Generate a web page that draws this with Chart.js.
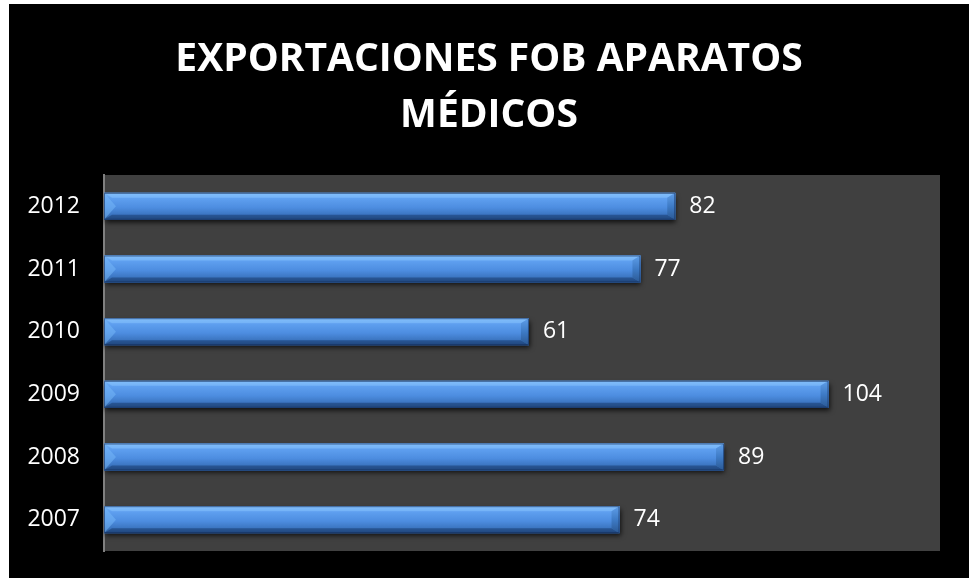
<!DOCTYPE html>
<html>
<head>
<meta charset="utf-8">
<script src="https://cdn.jsdelivr.net/npm/chart.js@4"></script>
<style>
  html, body { margin: 0; padding: 0; background: #ffffff; }
  #frame { position: absolute; left: 9px; top: 4px; width: 960px; height: 574px; background: #000000; }
</style>
</head>
<body>
<div id="frame"><canvas id="fobChart" width="960" height="574"></canvas></div>
<script>
const titleLines = ['EXPORTACIONES FOB APARATOS', 'MÉDICOS'];
const years = ['2007', '2008', '2009', '2010', '2011', '2012'];
const exportsFob = [74, 89, 104, 61, 77, 82];
const axisMax = 120;

// grey plot background behind the bars
const plotBackground = {
  id: 'plotBackground',
  beforeDraw(chart) {
    const { ctx, chartArea: a } = chart;
    ctx.save();
    ctx.fillStyle = '#404040';
    ctx.fillRect(a.left, a.top, a.right - a.left, a.bottom - a.top);
    ctx.restore();
  }
};

// centre the title over the whole canvas, not just the padded area
const centreTitle = {
  id: 'centreTitle',
  afterLayout(chart) {
    if (chart.titleBlock) {
      chart.titleBlock.left = 0;
      chart.titleBlock.right = chart.width;
    }
  }
};

// bevelled "3D" look for each bar plus the value at its end
const bevelBars = {
  id: 'bevelBars',
  beforeDatasetsDraw(chart) {
    const ctx = chart.ctx;
    chart.getDatasetMeta(0).data.forEach((bar) => {
      const { x, y, base, height } = bar.getProps(['x', 'y', 'base', 'height'], true);
      ctx.save();
      ctx.shadowColor = 'rgba(0,0,0,0.75)';
      ctx.shadowBlur = 5;
      ctx.shadowOffsetX = 1;
      ctx.shadowOffsetY = 3;
      ctx.fillStyle = '#3a75c0';
      ctx.fillRect(base, y - height / 2, x - base, height);
      ctx.restore();
    });
  },
  afterDatasetsDraw(chart) {
    const ctx = chart.ctx;
    const b = 8;
    chart.getDatasetMeta(0).data.forEach((bar, i) => {
      const { x, y, base, height } = bar.getProps(['x', 'y', 'base', 'height'], true);
      const top = y - height / 2, bottom = y + height / 2, left = base, right = x;

      const face = ctx.createLinearGradient(0, top, 0, bottom);
      face.addColorStop(0, '#7ab6f6');
      face.addColorStop(0.2, '#5fa0f0');
      face.addColorStop(0.55, '#4d8de0');
      face.addColorStop(0.8, '#3c76c2');
      face.addColorStop(1, '#2a5792');
      ctx.save();
      ctx.fillStyle = face;
      ctx.fillRect(left, top, right - left, height);

      const poly = (pts, fill) => {
        ctx.beginPath();
        ctx.moveTo(pts[0][0], pts[0][1]);
        for (let k = 1; k < pts.length; k++) ctx.lineTo(pts[k][0], pts[k][1]);
        ctx.closePath();
        ctx.fillStyle = fill;
        ctx.fill();
      };
      // top edge
      poly([[left, top], [right, top], [right - b, top + 5], [left + b, top + 5]], 'rgba(140,200,255,0.45)');
      // bottom edge
      poly([[left, bottom], [right, bottom], [right - b, bottom - 5], [left + b, bottom - 5]], 'rgba(20,50,100,0.45)');
      // left end
      poly([[left, top], [left + b + 4, y], [left, bottom]], 'rgba(120,185,250,0.5)');
      // right end
      const rg = ctx.createLinearGradient(0, top, 0, bottom);
      rg.addColorStop(0, '#5f9ee8');
      rg.addColorStop(0.5, '#3e7bc6');
      rg.addColorStop(1, '#2b5994');
      poly([[right, top], [right, bottom], [right - b, bottom - 5], [right - b, top + 5]], rg);
      ctx.strokeStyle = 'rgba(20,45,90,0.6)';
      ctx.lineWidth = 1;
      ctx.strokeRect(left + 0.5, top + 0.5, right - left - 1, height - 1);
      ctx.restore();

      ctx.save();
      ctx.fillStyle = '#ffffff';
      ctx.font = '23px "Open Sans"';
      ctx.textAlign = 'left';
      ctx.textBaseline = 'middle';
      ctx.fillText(String(exportsFob[i]), right + 14, y);
      ctx.restore();
    });
  }
};

new Chart(document.getElementById('fobChart'), {
  type: 'bar',
  data: {
    labels: years,
    datasets: [{
      data: exportsFob,
      backgroundColor: '#4a89da',
      borderWidth: 0,
      barPercentage: 0.43,
      categoryPercentage: 1
    }]
  },
  options: {
    indexAxis: 'y',
    responsive: false,
    animation: false,
    layout: { padding: { left: 0, right: 29, top: 0, bottom: 27 } },
    plugins: {
      legend: { display: false },
      tooltip: { enabled: false },
      title: {
        display: true,
        text: titleLines,
        color: '#ffffff',
        font: { family: 'Open Sans', size: 39, weight: 'bold', lineHeight: 56 / 39 },
        padding: { top: 28, bottom: 31 }
      }
    },
    scales: {
      x: { min: 0, max: axisMax, display: false },
      y: {
        reverse: true,
        grid: { display: false, drawTicks: false },
        border: { display: true, color: '#808080', width: 2 },
        ticks: { color: '#ffffff', font: { family: 'Open Sans', size: 23 }, padding: 24 },
        afterFit(scale) {
          scale.width = 95;
          // labels sit beside the bars, so no extra room above/below the axis
          scale.paddingTop = 0;
          scale.paddingBottom = 0;
        }
      }
    }
  },
  plugins: [plotBackground, centreTitle, bevelBars]
});
</script>
</body>
</html>
